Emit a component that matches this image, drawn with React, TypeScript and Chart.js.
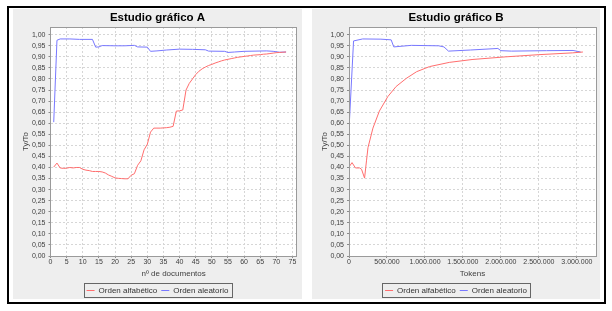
import React, { useEffect, useRef } from "react";
import { Chart, registerables } from "chart.js";

Chart.register(...registerables);

// ---------------- Data ----------------
const titleA = "Estudio gráfico A";
const titleB = "Estudio gráfico B";
const xTitleA = "nº de documentos";
const xTitleB = "Tokens";
const yTitle = "Ty/To";
const seriesNames = ["Orden alfabético", "Orden aleatorio"];

const yTickValues = [
  0, 0.05, 0.1, 0.15, 0.2, 0.25, 0.3, 0.35, 0.4, 0.45, 0.5, 0.55, 0.6, 0.65, 0.7,
  0.75, 0.8, 0.85, 0.9, 0.95, 1.0,
];
const docTickValues = [0, 5, 10, 15, 20, 25, 30, 35, 40, 45, 50, 55, 60, 65, 70, 75];
const tokenTickValues = [0, 500000, 1000000, 1500000, 2000000, 2500000, 3000000];

// Chart A: number of documents
const docsAlfa = [
  1, 2, 3, 4, 5, 6, 7, 8, 9, 10, 11, 12, 13, 14, 15, 16, 17, 18, 19, 20, 21, 22, 23, 24,
  25, 26, 27, 28, 29, 30, 31, 32, 33, 34, 35, 36, 37, 38, 39, 40, 41, 42, 43, 44, 45, 46,
  47, 48, 49, 50, 51, 52, 53, 54, 55, 56, 57, 58, 59, 60, 61, 62, 63, 64, 65, 66, 67, 68,
  69, 70, 71, 72, 73,
];
const ttrDocsAlfa = [
  0.402, 0.42, 0.398, 0.396, 0.397, 0.4, 0.398, 0.4, 0.4, 0.392, 0.388, 0.386, 0.382, 0.382,
  0.382, 0.38, 0.375, 0.366, 0.36, 0.353, 0.351, 0.35, 0.349, 0.349, 0.365, 0.372, 0.41,
  0.43, 0.48, 0.505, 0.56, 0.578, 0.578, 0.578, 0.579, 0.58, 0.582, 0.586, 0.655, 0.656,
  0.66, 0.75, 0.78, 0.8, 0.82, 0.835, 0.846, 0.854, 0.861, 0.866, 0.872, 0.877, 0.882,
  0.886, 0.889, 0.892, 0.895, 0.898, 0.9, 0.902, 0.904, 0.906, 0.908, 0.909, 0.91, 0.912,
  0.913, 0.915, 0.917, 0.919, 0.92, 0.921, 0.922,
];
const docsRand = [
  1, 2, 3, 6, 9, 13, 14, 15, 16, 20, 23, 26, 27, 30, 31, 33, 36, 40, 44, 48, 49, 54, 55,
  57, 60, 67, 69, 71, 73,
];
const ttrDocsRand = [
  0.605, 0.975, 0.981, 0.981, 0.979, 0.979, 0.944, 0.945, 0.951, 0.95, 0.95, 0.952, 0.945,
  0.944, 0.925, 0.927, 0.931, 0.935, 0.934, 0.932, 0.926, 0.925, 0.92, 0.922, 0.925, 0.927,
  0.925, 0.921, 0.922,
];

// Chart B: number of tokens
const tokensAlfa = [
  5000, 40000, 85000, 140000, 165000, 205000, 230000, 250000, 315000, 400000, 510000,
  620000, 755000, 890000, 1060000, 1320000, 1620000, 2060000, 2500000, 2940000, 3080000,
];
const ttrTokensAlfa = [
  0.405, 0.422, 0.398, 0.398, 0.392, 0.352, 0.43, 0.49, 0.578, 0.655, 0.72, 0.766, 0.803,
  0.833, 0.856, 0.875, 0.888, 0.9, 0.91, 0.918, 0.922,
];
const tokensRand = [
  5000, 60000, 180000, 420000, 555000, 590000, 820000, 1180000, 1250000, 1310000, 1600000,
  1960000, 2000000, 2140000, 2600000, 2950000, 3050000,
];
const ttrTokensRand = [
  0.605, 0.972, 0.981, 0.98, 0.977, 0.945, 0.952, 0.95, 0.945, 0.926, 0.931, 0.938, 0.928,
  0.926, 0.928, 0.929, 0.922,
];

// ---------------- Styling ----------------
const FONT = "'Liberation Sans', Arial, sans-serif";
const RED = "rgb(255,110,110)";
const BLUE = "rgb(120,120,255)";
const TEXT = "#404040";
const GRID = "#d6d6d6";

const fmtComma = (v: number) => v.toFixed(2).replace(".", ",");
const fmtDots = (v: number) =>
  Math.round(v)
    .toString()
    .replace(/\B(?=(\d{3})+(?!\d))/g, ".");

const plotFramePlugin = {
  id: "plotFrame",
  beforeDraw(chart: any) {
    const { ctx, chartArea: a } = chart;
    ctx.save();
    ctx.fillStyle = "#ffffff";
    ctx.fillRect(a.left, a.top, a.right - a.left, a.bottom - a.top);
    ctx.restore();
  },
  afterDraw(chart: any) {
    const { ctx, chartArea: a } = chart;
    ctx.save();
    ctx.strokeStyle = "#9a9a9a";
    ctx.lineWidth = 1;
    ctx.strokeRect(
      Math.floor(a.left) + 0.5,
      Math.floor(a.top) + 0.5,
      Math.round(a.right - a.left),
      Math.round(a.bottom - a.top)
    );
    const hb = chart.legend?.legendHitBoxes || [];
    if (hb.length) {
      const l = Math.min(...hb.map((h: any) => h.left)) - 3;
      const r = Math.max(...hb.map((h: any) => h.left + h.width)) + 3;
      const cy = hb[0].top + hb[0].height / 2;
      ctx.strokeStyle = "#666666";
      ctx.strokeRect(Math.round(l) + 0.5, Math.round(cy - 7.5) + 0.5, Math.round(r - l), 14);
    }
    ctx.restore();
  },
};

interface PanelSpec {
  title: string;
  xTitle: string;
  xMax: number;
  xTicks: number[];
  xFormat: (v: number) => string;
  yWidth: number;
  rightGap: number;
  alfaX: number[];
  alfaY: number[];
  randX: number[];
  randY: number[];
}

function buildConfig(p: PanelSpec): any {
  return {
    type: "line",
    data: {
      datasets: [
        {
          label: seriesNames[0],
          data: p.alfaX.map((x, i) => ({ x, y: p.alfaY[i] })),
          borderColor: RED,
          backgroundColor: RED,
          borderWidth: 1,
          pointRadius: 0,
          tension: 0,
        },
        {
          label: seriesNames[1],
          data: p.randX.map((x, i) => ({ x, y: p.randY[i] })),
          borderColor: BLUE,
          backgroundColor: BLUE,
          borderWidth: 1,
          pointRadius: 0,
          tension: 0,
        },
      ],
    },
    options: {
      animation: false,
      responsive: false,
      layout: { padding: { left: 0, right: 0, top: 0, bottom: -5.5 } },
      plugins: {
        tooltip: { enabled: false },
        title: {
          display: true,
          text: p.title,
          color: "#000000",
          font: { family: FONT, size: 11.5, weight: "bold", lineHeight: 1.2 },
          padding: { top: 1.9, bottom: 2.3 },
        },
        legend: {
          display: true,
          position: "bottom",
          labels: {
            usePointStyle: true,
            pointStyle: "line",
            pointStyleWidth: 8,
            boxHeight: 8,
            padding: 4,
            color: "#333333",
            font: { family: FONT, size: 8 },
          },
        },
      },
      scales: {
        x: {
          type: "linear",
          min: 0,
          max: p.xMax,
          afterBuildTicks: (s: any) => {
            s.ticks = p.xTicks.map((value) => ({ value }));
          },
          afterFit: (s: any) => {
            s.height = 26.5;
          },
          ticks: {
            autoSkip: false,
            maxRotation: 0,
            padding: 0,
            color: TEXT,
            font: { family: FONT, size: 7, lineHeight: 1.2 },
            callback: (v: any) => p.xFormat(Number(v)),
          },
          grid: {
            color: GRID,
            lineWidth: 1,
            tickLength: 2,
            tickColor: "#8a8a8a",
            tickBorderDash: [],
          },
          border: { display: false, dash: [2, 2] },
          title: {
            display: true,
            text: p.xTitle,
            color: TEXT,
            font: { family: FONT, size: 8, lineHeight: 1.2 },
            padding: { top: 0, bottom: 3.7 },
          },
        },
        y: {
          type: "linear",
          position: "left",
          min: 0,
          max: 1.035,
          afterBuildTicks: (s: any) => {
            s.ticks = yTickValues.map((value) => ({ value }));
          },
          afterFit: (s: any) => {
            s.width = p.yWidth;
          },
          ticks: {
            autoSkip: false,
            padding: 3,
            color: TEXT,
            font: { family: FONT, size: 7, lineHeight: 1.2 },
            callback: (v: any) => fmtComma(Number(v)),
          },
          grid: {
            color: GRID,
            lineWidth: 1,
            tickLength: 2,
            tickColor: "#8a8a8a",
            tickBorderDash: [],
          },
          border: { display: false, dash: [2, 2] },
          title: {
            display: true,
            text: yTitle,
            color: TEXT,
            font: { family: FONT, size: 8, lineHeight: 1.2 },
            padding: { top: 8.2, bottom: 0 },
          },
        },
        gap: {
          type: "linear",
          position: "right",
          display: true,
          ticks: { display: false },
          grid: { display: false, drawTicks: false },
          border: { display: false },
          afterFit: (s: any) => {
            s.width = p.rightGap;
          },
        },
      },
    },
    plugins: [plotFramePlugin],
  };
}

function ChartPanel({ spec, left, width }: { spec: PanelSpec; left: number; width: number }) {
  const ref = useRef<HTMLCanvasElement>(null);
  useEffect(() => {
    const chart = new Chart(ref.current as HTMLCanvasElement, buildConfig(spec));
    return () => chart.destroy();
  }, []);
  return (
    <div
      style={{
        position: "absolute",
        left,
        top: 9,
        width,
        height: 290,
        background: "#eeeeee",
      }}
    >
      <canvas ref={ref} width={width} height={290} style={{ display: "block", width, height: 290 }} />
    </div>
  );
}

const specA: PanelSpec = {
  title: titleA,
  xTitle: xTitleA,
  xMax: 76.3,
  xTicks: docTickValues,
  xFormat: (v) => String(v),
  yWidth: 37.5,
  rightGap: 5.3,
  alfaX: docsAlfa,
  alfaY: ttrDocsAlfa,
  randX: docsRand,
  randY: ttrDocsRand,
};

const specB: PanelSpec = {
  title: titleB,
  xTitle: xTitleB,
  xMax: 3252000,
  xTicks: tokenTickValues,
  xFormat: fmtDots,
  yWidth: 37,
  rightGap: 4,
  alfaX: tokensAlfa,
  alfaY: ttrTokensAlfa,
  randX: tokensRand,
  randY: ttrTokensRand,
};

export default function App() {
  return (
    <div
      style={{
        position: "fixed",
        left: 0,
        top: 0,
        width: 612,
        height: 311,
        background: "#ffffff",
        overflow: "hidden",
      }}
    >
      <div
        style={{
          position: "absolute",
          left: 7,
          top: 6,
          width: 599,
          height: 298,
          boxSizing: "border-box",
          border: "2px solid #000000",
          background: "#ffffff",
        }}
      />
      <ChartPanel spec={specA} left={13} width={289} />
      <ChartPanel spec={specB} left={312} width={288} />
    </div>
  );
}
